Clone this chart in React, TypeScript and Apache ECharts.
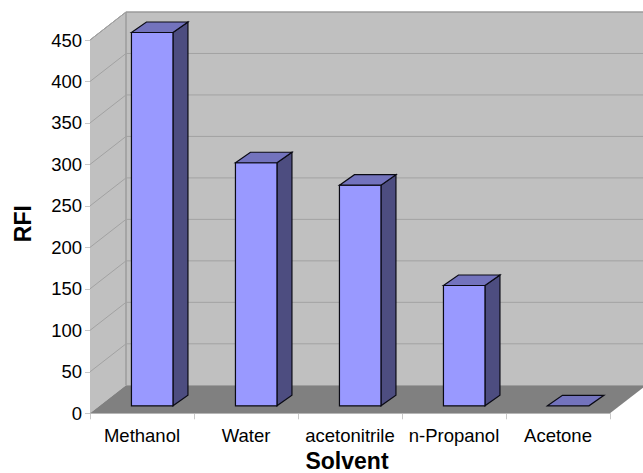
import React, { useEffect, useRef } from "react";
import * as echarts from "echarts";

const solvents = ["Methanol", "Water", "acetonitrile", "n-Propanol", "Acetone"];
const rfiValues = [450, 293, 266, 145, 0];
const rfiTicks = [0, 50, 100, 150, 200, 250, 300, 350, 400, 450];

// Oblique projection of the 3D box that holds the columns
const WALL_DX = 36;
const WALL_DY = -28;
const BAR_INSET_DX = 10.2;
const BAR_INSET_DY = -7.5;
const BAR_DEPTH_DX = 15;
const BAR_DEPTH_DY = -10.5;
const BAR_WIDTH = 41.5;

const WALL = "#c0c0c0";
const FLOOR = "#808080";
const EDGE = "#8a8a8a";
const GRID = "#a2a2a2";
const FACE = "#9999ff";
const SIDE = "#4d4d80";
const TOP = "#7373bd";
const OUTLINE = "#0a0a14";

const poly = (points: number[][], fill: string, stroke?: string, lineWidth = 1) => ({
  type: "polygon",
  shape: { points },
  style: { fill, stroke: stroke ?? "none", lineWidth },
});

const line = (x1: number, y1: number, x2: number, y2: number, stroke: string) => ({
  type: "line",
  shape: { x1, y1, x2, y2 },
  style: { stroke, lineWidth: 1, fill: "none" },
});

// Floor and the two walls, drawn once from the grid rectangle
const renderBox = (params: any) => {
  const { x, y, width, height } = params.coordSys;
  const r = x + width;
  const b = y + height;
  return {
    type: "group",
    children: [
      poly([[x, y], [x + WALL_DX, y + WALL_DY], [x + WALL_DX, b + WALL_DY], [x, b]], WALL),
      poly([[x + WALL_DX, y + WALL_DY], [r + WALL_DX, y + WALL_DY], [r + WALL_DX, b + WALL_DY], [x + WALL_DX, b + WALL_DY]], WALL),
      poly([[x, b], [r, b], [r + WALL_DX, b + WALL_DY], [x + WALL_DX, b + WALL_DY]], FLOOR),
      line(x + WALL_DX, y + WALL_DY, x + WALL_DX, b + WALL_DY, EDGE),
      line(x, y, x + WALL_DX, y + WALL_DY, EDGE),
      line(x + WALL_DX, y + WALL_DY, r + WALL_DX, y + WALL_DY, EDGE),
    ],
  };
};

// One value gridline running across the side wall and the back wall
const renderGridline = (params: any, api: any) => {
  const { x, width } = params.coordSys;
  const py = api.coord([0, api.value(0)])[1];
  return {
    type: "group",
    children: [
      line(x, py, x + WALL_DX, py + WALL_DY, GRID),
      line(x + WALL_DX, py + WALL_DY, x + width + WALL_DX, py + WALL_DY, GRID),
    ],
  };
};

// A column with its front, side and top faces
const renderColumn = (params: any, api: any) => {
  const [cx, valueY] = api.coord([api.value(0), api.value(1)]);
  const baseY = api.coord([api.value(0), 0])[1];
  const left = cx - BAR_WIDTH / 2 + BAR_INSET_DX;
  const right = left + BAR_WIDTH;
  const top = valueY + BAR_INSET_DY;
  const bottom = baseY + BAR_INSET_DY;
  const dx = BAR_DEPTH_DX;
  const dy = BAR_DEPTH_DY;
  const hasBody = bottom - top > 0.5;
  const children: any[] = [];
  if (hasBody) {
    children.push(poly([[right, top], [right + dx, top + dy], [right + dx, bottom + dy], [right, bottom]], SIDE, OUTLINE, 1.2));
    children.push(poly([[left, top], [right, top], [right, bottom], [left, bottom]], FACE, OUTLINE, 1.2));
  }
  children.push(poly([[left, top], [left + dx, top + dy], [right + dx, top + dy], [right, top]], TOP, OUTLINE, 1.2));
  return { type: "group", children };
};

export default function App() {
  const ref = useRef<HTMLDivElement>(null);

  useEffect(() => {
    const chart = echarts.init(ref.current!, null, { renderer: "svg" });
    chart.setOption({
      animation: false,
      backgroundColor: "#ffffff",
      textStyle: { fontFamily: "Liberation Sans" },
      grid: { left: 90, right: 33, top: 40, height: 373.3, outerBoundsMode: "none" },
      xAxis: {
        type: "category",
        data: solvents,
        name: "Solvent",
        nameLocation: "middle",
        nameGap: 34,
        nameTextStyle: { fontSize: 23, fontWeight: "bold", color: "#000000", fontFamily: "Liberation Sans", padding: [0, 6, 0, 0] },
        axisLine: { show: true, lineStyle: { color: "#c8c8c8" } },
        axisTick: { show: true, length: 6, lineStyle: { color: "#c8c8c8" } },
        axisLabel: { fontSize: 18.5, color: "#000000", margin: 12.5, interval: 0, fontFamily: "Liberation Sans" },
        splitLine: { show: false },
      },
      yAxis: {
        type: "value",
        min: 0,
        max: 450,
        interval: 50,
        name: "RFI",
        nameLocation: "middle",
        nameGap: 56,
        nameRotate: 90,
        nameTextStyle: { fontSize: 23, fontWeight: "bold", color: "#000000", fontFamily: "Liberation Sans", padding: [0, 0, 0, 6] },
        axisLine: { show: true, lineStyle: { color: "#b0b0b0" } },
        axisTick: { show: true, length: 5, lineStyle: { color: "#c8c8c8" } },
        axisLabel: { fontSize: 18.5, color: "#000000", margin: 8, fontFamily: "Liberation Sans" },
        splitLine: { show: false },
      },
      series: [
        {
          type: "custom",
          coordinateSystem: "cartesian2d",
          renderItem: renderBox,
          data: [[0, 0]],
          silent: true,
          clip: false,
          z: 1,
        },
        {
          type: "custom",
          coordinateSystem: "cartesian2d",
          renderItem: renderGridline,
          encode: { y: 0 },
          data: rfiTicks.filter((t) => t > 0).map((t) => [t]),
          silent: true,
          clip: false,
          z: 2,
        },
        {
          type: "custom",
          coordinateSystem: "cartesian2d",
          renderItem: renderColumn,
          encode: { x: 0, y: 1 },
          data: rfiValues.map((v, i) => [i, v]),
          silent: true,
          clip: false,
          z: 3,
        },
      ],
    });
    return () => chart.dispose();
  }, []);

  return <div ref={ref} style={{ position: "fixed", left: 0, top: 0, width: 643, height: 473 }} />;
}
